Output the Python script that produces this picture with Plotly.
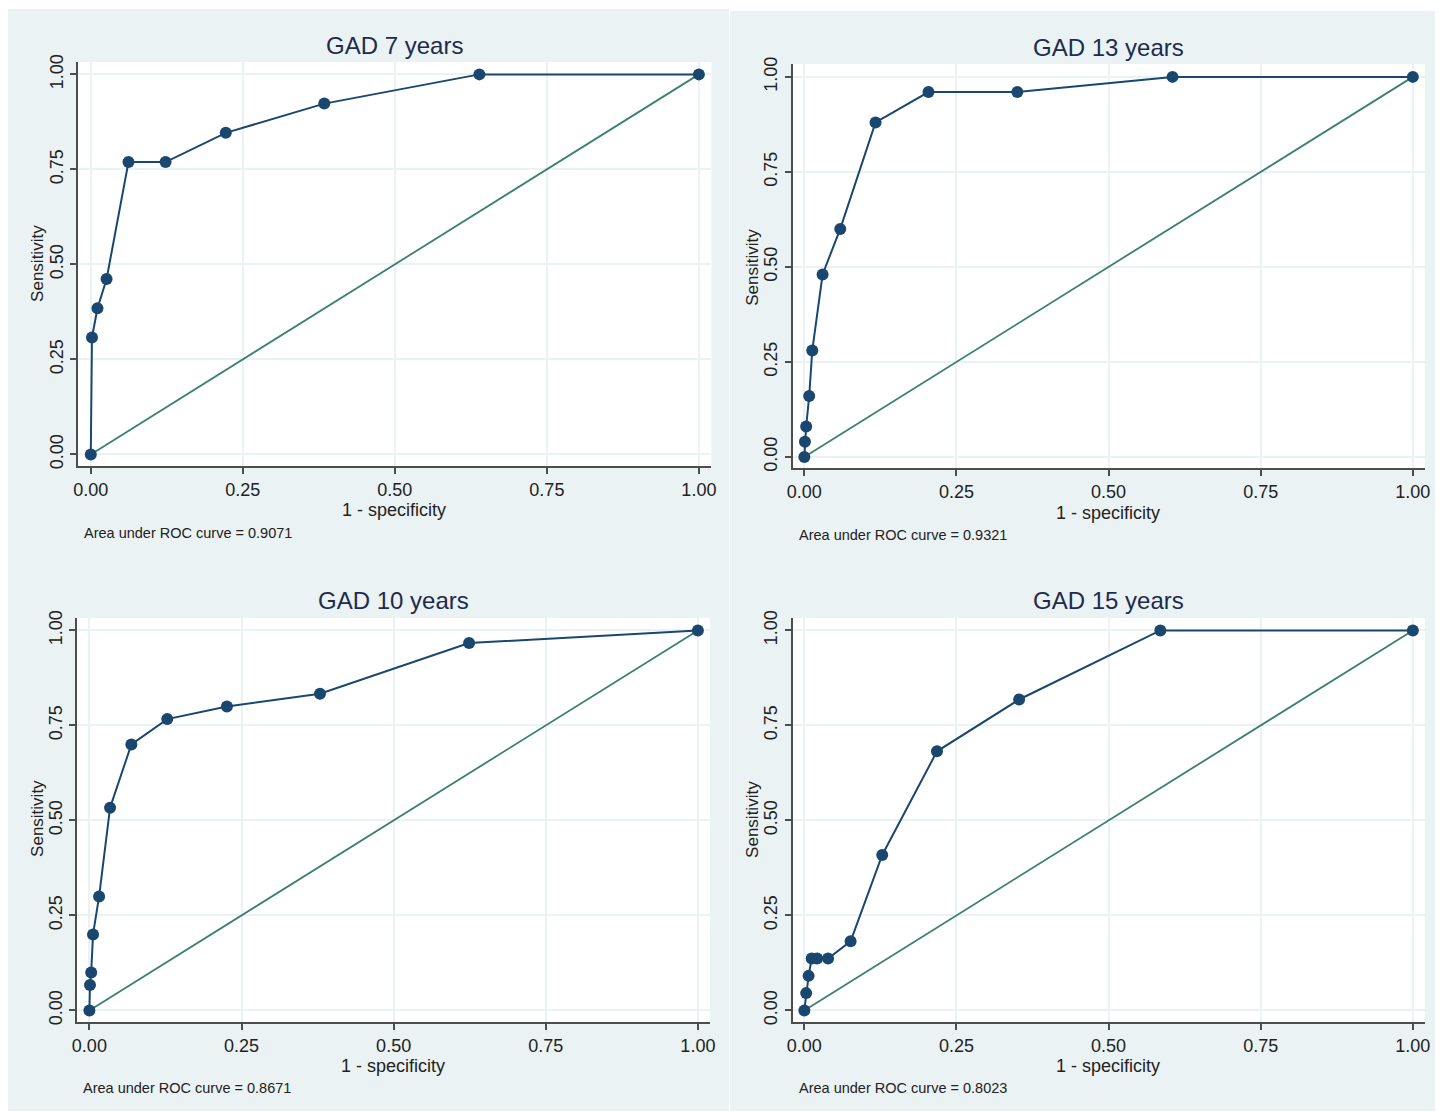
import plotly.graph_objects as go

W, H = 1443, 1112
OFFX, OFFY = 8, 8            # body margin of the page
FW, FH = W - OFFX, H - OFFY
# empirical page -> picture mapping correction
SX, BX = 0.991, 6.1
SY, BY = 0.990, 7.2

titles = ["GAD 7 years", "GAD 13 years", "GAD 10 years", "GAD 15 years"]
auc_values = ["0.9071", "0.9321", "0.8671", "0.8023"]

fpr_gad7 = [0.0, 0.002, 0.011, 0.026, 0.062, 0.123, 0.222, 0.384, 0.639, 1.0]
sens_gad7 = [0.0, 0.3077, 0.3846, 0.4615, 0.7692, 0.7692, 0.8462, 0.9231, 1.0, 1.0]

fpr_gad13 = [0.0, 0.001, 0.003, 0.008, 0.013, 0.030, 0.059, 0.117, 0.204, 0.350, 0.605, 1.0]
sens_gad13 = [0.0, 0.04, 0.08, 0.16, 0.28, 0.48, 0.60, 0.88, 0.96, 0.96, 1.0, 1.0]

fpr_gad10 = [0.0, 0.001, 0.003, 0.006, 0.016, 0.034, 0.069, 0.128, 0.226, 0.379, 0.624, 1.0]
sens_gad10 = [0.0, 0.0667, 0.1, 0.2, 0.3, 0.5333, 0.7, 0.7667, 0.8, 0.8333, 0.9667, 1.0]

fpr_gad15 = [0.0, 0.003, 0.007, 0.012, 0.021, 0.039, 0.076, 0.128, 0.218, 0.353, 0.585, 1.0]
sens_gad15 = [0.0, 0.0455, 0.0909, 0.1364, 0.1364, 0.1364, 0.1818, 0.4091, 0.6818, 0.8182, 1.0, 1.0]

ref_line = [0.0, 1.0]
tick_vals = [0.0, 0.25, 0.5, 0.75, 1.0]
tick_text = ["0.00", "0.25", "0.50", "0.75", "1.00"]

series = [(fpr_gad7, sens_gad7), (fpr_gad13, sens_gad13),
          (fpr_gad10, sens_gad10), (fpr_gad15, sens_gad15)]


def px(x):
    return ((x - BX) / SX - OFFX) / FW


def py(y):
    return 1 - ((y - BY) / SY - OFFY) / FH


geom = [
    dict(bg=(7, 8, 728, 563), area=(78, 61, 710.5, 465.5), x01=(90.7, 698), y01=(453.5, 73.5),
         title=(394, 45), xt=(394, 509), yt=(38, 263), note=(82, 532)),
    dict(bg=(729, 10, 1441, 563), area=(791.5, 63, 1423, 467.5), x01=(803.3, 1411), y01=(456, 76),
         title=(1107, 47), xt=(1107, 512), yt=(752, 266), note=(796, 534)),
    dict(bg=(7, 563, 728, 1110), area=(77, 617, 709, 1021.5), x01=(89.3, 697), y01=(1009.5, 629.5),
         title=(393, 600), xt=(393, 1065), yt=(38, 818), note=(81, 1087)),
    dict(bg=(729, 563, 1441, 1110), area=(791.5, 617, 1423, 1021.5), x01=(803.3, 1411), y01=(1009.5, 629.5),
         title=(1107, 600), xt=(1107, 1065), yt=(752, 818), note=(796, 1087)),
]

NAVY = "#1a476f"
GREEN = "#3b8070"
BG = "#eaf2f3"
AXIS = "#4d4d4d"
FONT = "Liberation Sans, Arial, sans-serif"

fig = go.Figure()
shapes = []
annotations = []

for i, ((fx, sy), g) in enumerate(zip(series, geom)):
    n = "" if i == 0 else str(i + 1)
    xa, ya = "x" + n, "y" + n
    L, T, R, B = g["area"]
    px0, px1 = g["x01"]
    py0, py1 = g["y01"]
    xr = [(L - px0) / (px1 - px0), (R - px0) / (px1 - px0)]
    yr = [(py0 - B) / (py0 - py1), (py0 - T) / (py0 - py1)]
    axis_common = dict(
        tickvals=tick_vals, ticktext=tick_text, showgrid=True, gridcolor=BG, gridwidth=2,
        zeroline=False, showline=True, linecolor=AXIS, linewidth=2, ticks="outside",
        ticklen=6, tickwidth=1.5, tickcolor=AXIS, mirror=False,
        tickfont=dict(family=FONT, size=18, color="#222222"), fixedrange=True,
    )
    fig.update_layout(**{
        ("xaxis" + n): dict(domain=[px(L), min(px(R), 1.0)], range=xr, anchor=ya, **axis_common),
        ("yaxis" + n): dict(domain=[max(py(B), 0.0), py(T)], range=yr, anchor=xa,
                            tickangle=-90, **axis_common),
    })
    bx0, by0, bx1, by1 = g["bg"]
    shapes.append(dict(type="rect", xref="paper", yref="paper", x0=px(bx0), x1=px(bx1),
                       y0=py(by1), y1=py(by0), fillcolor=BG, line=dict(width=0),
                       layer="below"))
    shapes.append(dict(type="rect", xref="paper", yref="paper", x0=px(L), x1=px(R),
                       y0=py(B), y1=py(T), fillcolor="white", line=dict(width=0),
                       layer="below"))
    fig.add_trace(go.Scatter(x=ref_line, y=ref_line, mode="lines", xaxis=xa, yaxis=ya,
                             line=dict(color=GREEN, width=1.8), showlegend=False, hoverinfo="skip"))
    fig.add_trace(go.Scatter(x=fx, y=sy, mode="lines+markers", xaxis=xa, yaxis=ya,
                             line=dict(color=NAVY, width=2),
                             marker=dict(color=NAVY, size=12, line=dict(width=0)),
                             showlegend=False))
    tx, ty = g["title"]
    annotations.append(dict(text=titles[i], x=px(tx), y=py(ty), xref="paper", yref="paper",
                            showarrow=False, xanchor="center", yanchor="middle",
                            font=dict(family=FONT, size=24, color="#1e2b4d")))
    tx, ty = g["xt"]
    annotations.append(dict(text="1 - specificity", x=px(tx), y=py(ty), xref="paper", yref="paper",
                            showarrow=False, xanchor="center", yanchor="middle",
                            font=dict(family=FONT, size=18, color="#222222")))
    tx, ty = g["yt"]
    annotations.append(dict(text="Sensitivity", x=px(tx), y=py(ty), xref="paper", yref="paper",
                            showarrow=False, xanchor="center", yanchor="middle", textangle=-90,
                            font=dict(family=FONT, size=17, color="#222222")))
    tx, ty = g["note"]
    annotations.append(dict(text="Area under ROC curve = " + auc_values[i], x=px(tx), y=py(ty),
                            xref="paper", yref="paper", showarrow=False, xanchor="left",
                            yanchor="middle", font=dict(family=FONT, size=14.5, color="#222222")))

fig.update_layout(width=FW, height=FH, margin=dict(l=0, r=0, t=0, b=0, pad=0),
                  paper_bgcolor="white", plot_bgcolor="rgba(0,0,0,0)",
                  shapes=shapes, annotations=annotations, showlegend=False)

fig.write_html("out.html")
